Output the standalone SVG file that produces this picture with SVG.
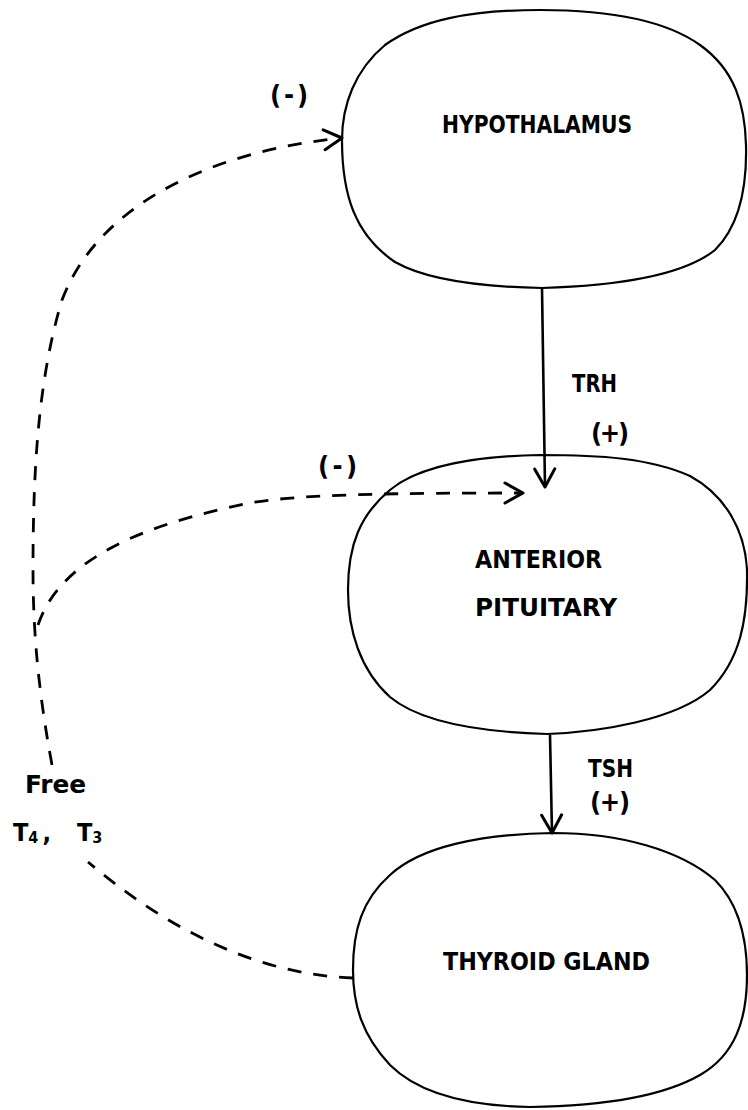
<svg xmlns="http://www.w3.org/2000/svg" width="748" height="1110" viewBox="0 0 748 1110">
<style>
.node{fill:none;stroke:#000;stroke-width:2.2}
.lbl{font-family:"DejaVu Sans Condensed","DejaVu Sans",sans-serif;font-weight:bold;font-size:25px;fill:#000}
.sign{font-family:"DejaVu Sans Condensed","DejaVu Sans",sans-serif;font-weight:bold;font-size:27px;fill:#000}
.solid{fill:none;stroke:#000;stroke-width:2.6}
.dash{fill:none;stroke:#000;stroke-width:2.8;stroke-dasharray:14 12}
</style>
<defs>
<marker id="open" viewBox="0 0 22 24" refX="20" refY="12" markerWidth="22" markerHeight="24" markerUnits="userSpaceOnUse" orient="auto">
<path d="M2,2 L20,12 L2,22" fill="none" stroke="#000" stroke-width="3" stroke-dasharray="none" stroke-linecap="round" stroke-linejoin="round"/>
</marker>
</defs>
<rect width="748" height="1110" fill="#fff"/>
<g id="hypothalamus">
<path class="node" d="M540,10 C470,10 420,20 385,45 C355,70 342,105 342,140 C342,195 355,235 395,262 C430,282 490,287 542,288 C610,286 680,278 715,250 C740,225 747,185 746,145 C745,105 735,70 700,45 C665,20 610,10 540,10 Z"/>
<text class="lbl" x="442" y="133" textLength="190" lengthAdjust="spacingAndGlyphs">HYPOTHALAMUS</text>
</g>
<g id="anterior-pituitary">
<path class="node" d="M540,455 C600,455 650,458 690,476 C725,495 745,530 747,570 C748,620 740,660 710,690 C675,720 600,732 547,734 C480,732 420,722 390,697 C360,670 348,630 348,590 C348,545 360,515 390,490 C420,465 480,456 540,455 Z"/>
<text class="lbl" x="475" y="568" textLength="127" lengthAdjust="spacingAndGlyphs">ANTERIOR</text>
<text class="lbl" x="475" y="616" textLength="142" lengthAdjust="spacingAndGlyphs">PITUITARY</text>
</g>
<g id="thyroid-gland">
<path class="node" d="M553,833 C620,833 680,850 715,880 C740,905 747,940 747,975 C747,1020 735,1055 700,1075 C660,1098 600,1106 530,1107 C470,1106 420,1095 390,1065 C362,1035 353,1005 353,970 C353,930 362,900 390,875 C420,847 480,834 553,833 Z"/>
<text class="lbl" x="443" y="970" textLength="207" lengthAdjust="spacingAndGlyphs">THYROID GLAND</text>
</g>
<g id="connectors">
<path class="solid" d="M542,288 L545,487" marker-end="url(#open)"/>
<path class="solid" d="M550,735 L552,833" marker-end="url(#open)"/>
<path class="dash" d="M353,978 C270,975 180,940 88,862"/>
<path class="dash" d="M52,765 C40,700 33,640 33,570 C33,470 38,380 62,300 C100,200 220,150 342,138" marker-end="url(#open)"/>
<path class="dash" d="M38,625 C60,560 140,525 250,503 C300,494 400,493 523,493" marker-end="url(#open)"/>
</g>
<g id="labels">
<text class="lbl" x="572" y="392" textLength="45" lengthAdjust="spacingAndGlyphs">TRH</text>
<text class="sign" x="591" y="442" textLength="38" lengthAdjust="spacing">(+)</text>
<text class="lbl" x="588" y="777" textLength="45" lengthAdjust="spacingAndGlyphs">TSH</text>
<text class="sign" x="590" y="811" textLength="40" lengthAdjust="spacing">(+)</text>
<text class="sign" x="270" y="104" textLength="38" lengthAdjust="spacing">(-)</text>
<text class="sign" x="318" y="475" textLength="39" lengthAdjust="spacing">(-)</text>
<text class="lbl" x="25" y="793" textLength="61" lengthAdjust="spacingAndGlyphs">Free</text>
<text class="lbl" x="13" y="841">T<tspan font-size="16" dy="2">4</tspan><tspan dy="-2" dx="4">,</tspan><tspan x="77">T</tspan><tspan font-size="16" dy="2">3</tspan></text>
</g>
</svg>
